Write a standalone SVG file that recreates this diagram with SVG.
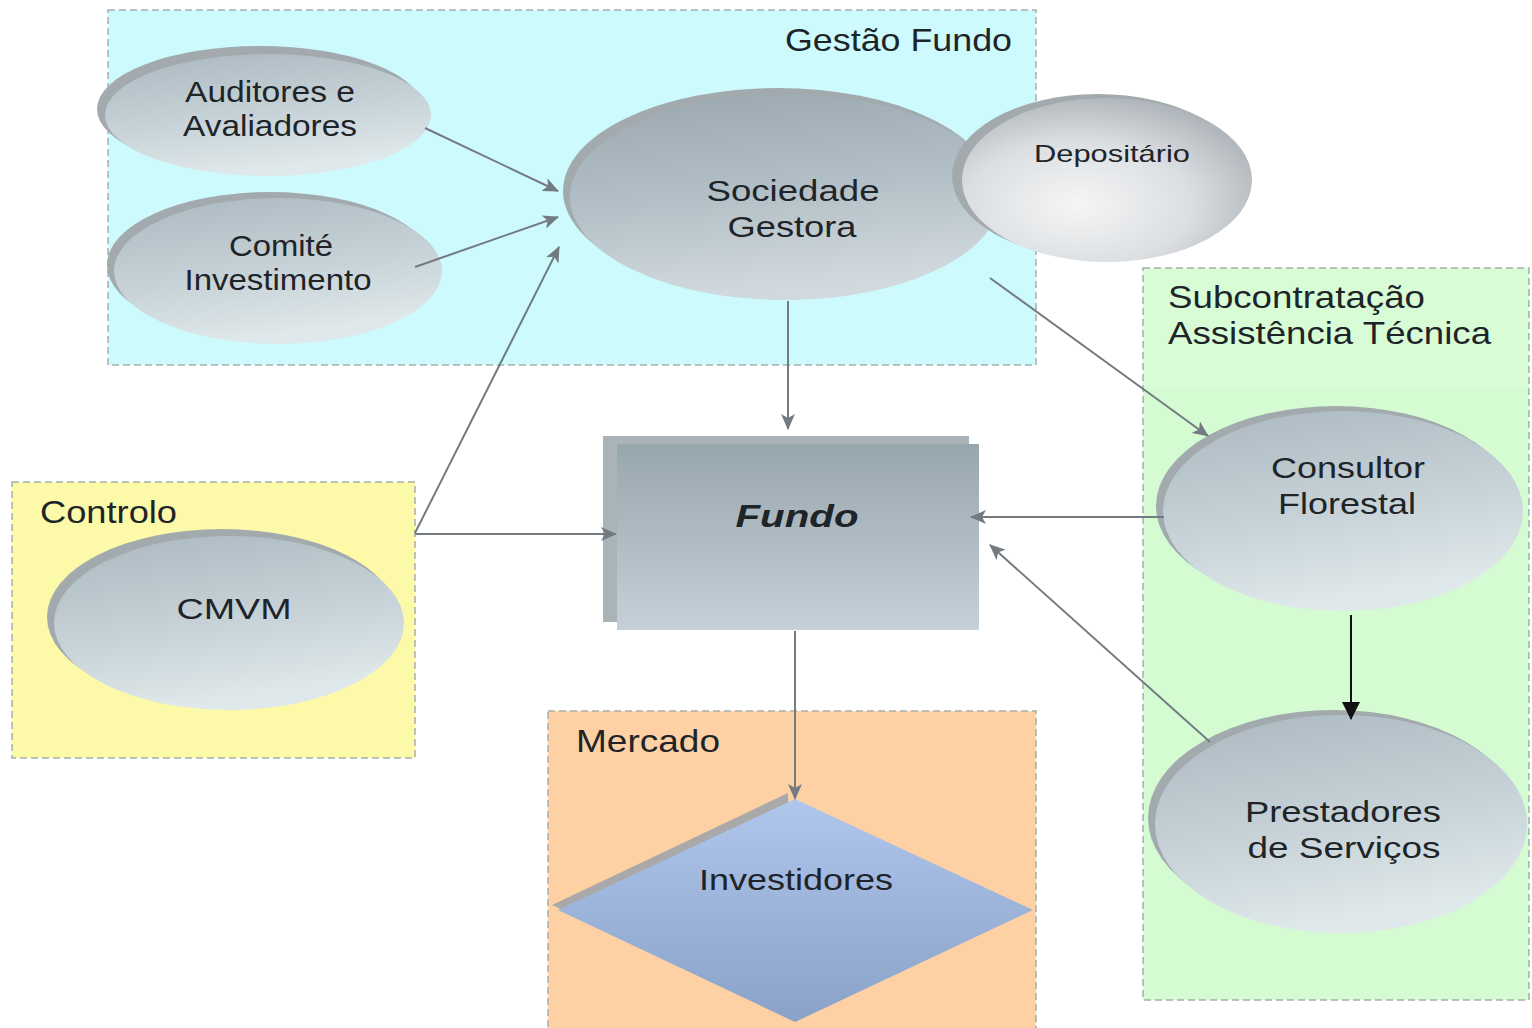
<svg xmlns="http://www.w3.org/2000/svg" width="1532" height="1028" viewBox="0 0 1532 1028">
<defs>
<style>
.grp{stroke:#a6aeae;stroke-width:1.5;stroke-dasharray:7,4}
.t{font-family:"Liberation Sans",Arial,sans-serif;fill:#1e2428}
.gl{font-size:32px}
.nl{font-size:30px;text-anchor:middle}
.rim{fill:#a3aaae}
.con{stroke:#737b80;stroke-width:2;fill:none}
</style>
<linearGradient id="gEll" x1="0" y1="0" x2="0.3" y2="1">
<stop offset="0" stop-color="#abb8c0"/>
<stop offset="0.6" stop-color="#c7d3d8"/>
<stop offset="1" stop-color="#dfe8ea"/>
</linearGradient>
<linearGradient id="gSoc" x1="0" y1="0" x2="0.2" y2="1">
<stop offset="0" stop-color="#9aa7b0"/>
<stop offset="0.55" stop-color="#b4c0c7"/>
<stop offset="1" stop-color="#d0d9de"/>
</linearGradient>
<radialGradient id="gDep" cx="0.4" cy="0.65" r="0.7">
<stop offset="0" stop-color="#f4f5f6"/>
<stop offset="0.55" stop-color="#dcdfe2"/>
<stop offset="1" stop-color="#aab1b6"/>
</radialGradient>
<linearGradient id="gFun" x1="0" y1="0" x2="0" y2="1">
<stop offset="0" stop-color="#98a6ae"/>
<stop offset="1" stop-color="#c6d0d8"/>
</linearGradient>
<linearGradient id="gInv" x1="0" y1="0" x2="0" y2="1">
<stop offset="0" stop-color="#b0c6ec"/>
<stop offset="1" stop-color="#8aa2c8"/>
</linearGradient>
<marker id="ah" viewBox="0 0 16 14" refX="15" refY="7" markerWidth="16" markerHeight="14" markerUnits="userSpaceOnUse" orient="auto">
<path d="M0,0 L16,7 L0,14 L4,7 Z" fill="#737b80"/>
</marker>
<marker id="ahb" viewBox="0 0 18 18" refX="17" refY="9" markerWidth="18" markerHeight="18" markerUnits="userSpaceOnUse" orient="auto">
<path d="M0,0 L18,9 L0,18 Z" fill="#111"/>
</marker>
</defs>
<rect width="1532" height="1028" fill="#ffffff"/>

<g id="group-gestao">
<rect class="grp" x="108" y="10" width="928" height="355" fill="#cdfafc"/>
<text class="t gl" x="785" y="51" textLength="227" lengthAdjust="spacingAndGlyphs">Gestão Fundo</text>
</g>
<g id="group-controlo">
<rect class="grp" x="12" y="482" width="403" height="276" fill="#fcfaa8"/>
<text class="t gl" x="40" y="523" textLength="137" lengthAdjust="spacingAndGlyphs">Controlo</text>
</g>
<g id="group-mercado">
<rect class="grp" x="548" y="711" width="488" height="330" fill="#fdd1a4"/>
<text class="t gl" x="576" y="752" textLength="144" lengthAdjust="spacingAndGlyphs">Mercado</text>
</g>
<g id="group-sub">
<rect class="grp" x="1143" y="268" width="386" height="732" fill="#d4fbd2"/>
<rect x="1144" y="269" width="384" height="120" fill="#d8fcd6"/>
<text class="t gl" x="1168" y="308" textLength="257" lengthAdjust="spacingAndGlyphs">Subcontratação</text>
<text class="t gl" x="1168" y="344" textLength="323" lengthAdjust="spacingAndGlyphs">Assistência Técnica</text>
</g>

<g id="node-auditores">
<ellipse class="rim" cx="260" cy="109" rx="163" ry="63"/>
<ellipse cx="268" cy="115" rx="163" ry="61" fill="url(#gEll)"/>
<text class="t nl" x="270" y="102" textLength="170" lengthAdjust="spacingAndGlyphs">Auditores e</text>
<text class="t nl" x="270" y="136" textLength="174" lengthAdjust="spacingAndGlyphs">Avaliadores</text>
</g>
<g id="node-comite">
<ellipse class="rim" cx="270" cy="265" rx="163" ry="73"/>
<ellipse cx="278" cy="271" rx="164" ry="73" fill="url(#gEll)"/>
<text class="t nl" x="281" y="256" textLength="104" lengthAdjust="spacingAndGlyphs">Comité</text>
<text class="t nl" x="278" y="290" textLength="187" lengthAdjust="spacingAndGlyphs">Investimento</text>
</g>
<g id="node-sociedade">
<ellipse class="rim" cx="778" cy="191" rx="215" ry="103"/>
<ellipse cx="785" cy="197" rx="215" ry="103" fill="url(#gSoc)"/>
<text class="t nl" x="793" y="201" textLength="173" lengthAdjust="spacingAndGlyphs">Sociedade</text>
<text class="t nl" x="792" y="237" textLength="129" lengthAdjust="spacingAndGlyphs">Gestora</text>
</g>
<g id="node-depositario">
<ellipse class="rim" cx="1098" cy="176" rx="146" ry="82"/>
<ellipse cx="1107" cy="180" rx="145" ry="82" fill="url(#gDep)"/>
<text class="t" x="1112" y="162" font-size="24" text-anchor="middle" textLength="156" lengthAdjust="spacingAndGlyphs">Depositário</text>
</g>
<g id="node-fundo">
<rect x="603" y="436" width="366" height="186" fill="#a9b3b8"/>
<rect x="617" y="444" width="362" height="186" fill="url(#gFun)"/>
<text class="t" x="797" y="527" font-size="32" font-weight="bold" font-style="italic" text-anchor="middle" textLength="123" lengthAdjust="spacingAndGlyphs">Fundo</text>
</g>
<g id="node-cmvm">
<ellipse class="rim" cx="222" cy="617" rx="175" ry="88"/>
<ellipse cx="229" cy="623" rx="175" ry="87" fill="url(#gEll)"/>
<text class="t nl" x="234" y="619" textLength="115" lengthAdjust="spacingAndGlyphs">CMVM</text>
</g>
<g id="node-consultor">
<ellipse class="rim" cx="1336" cy="506" rx="180" ry="100"/>
<ellipse cx="1343" cy="511" rx="180" ry="100" fill="url(#gEll)"/>
<text class="t nl" x="1348" y="478" textLength="154" lengthAdjust="spacingAndGlyphs">Consultor</text>
<text class="t nl" x="1347" y="514" textLength="138" lengthAdjust="spacingAndGlyphs">Florestal</text>
</g>
<g id="node-prestadores">
<ellipse class="rim" cx="1334" cy="818" rx="186" ry="108"/>
<ellipse cx="1341" cy="824" rx="186" ry="109" fill="url(#gEll)"/>
<text class="t nl" x="1343" y="822" textLength="196" lengthAdjust="spacingAndGlyphs">Prestadores</text>
<text class="t nl" x="1344" y="858" textLength="193" lengthAdjust="spacingAndGlyphs">de Serviços</text>
</g>
<g id="node-investidores">
<polygon points="788,793 552,905 795,1018" fill="#a8a9a8"/>
<polygon points="795,799 1033,910 795,1022 558,910" fill="url(#gInv)"/>
<text class="t nl" x="796" y="890" textLength="194" lengthAdjust="spacingAndGlyphs">Investidores</text>
</g>

<g id="connectors">
<line class="con" x1="425" y1="128" x2="558" y2="191" marker-end="url(#ah)"/>
<line class="con" x1="415" y1="267" x2="558" y2="217" marker-end="url(#ah)"/>
<line class="con" x1="415" y1="533" x2="559" y2="247" marker-end="url(#ah)"/>
<line class="con" x1="415" y1="534" x2="616" y2="534" marker-end="url(#ah)"/>
<line class="con" x1="788" y1="301" x2="788" y2="429" marker-end="url(#ah)"/>
<line class="con" x1="990" y1="278" x2="1208" y2="436" marker-end="url(#ah)"/>
<line class="con" x1="1164" y1="517" x2="971" y2="517" marker-end="url(#ah)"/>
<line class="con" x1="1210" y1="742" x2="990" y2="545" marker-end="url(#ah)"/>
<line class="con" x1="795" y1="631" x2="795" y2="799" marker-end="url(#ah)"/>
<line x1="1351" y1="615" x2="1351" y2="719" stroke="#111" stroke-width="2" marker-end="url(#ahb)"/>
</g>
</svg>
